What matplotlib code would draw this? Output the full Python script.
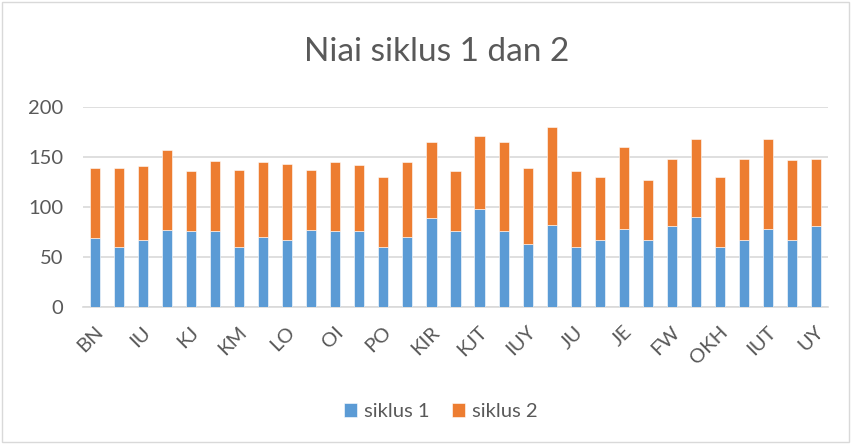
import numpy as np
import matplotlib
matplotlib.use('Agg')
import matplotlib.pyplot as plt
import matplotlib.transforms as mtrans
from matplotlib.patches import Rectangle

plt.rcParams['font.family'] = ['Lato', 'DejaVu Sans']

# visible category labels (every other bar carries a label)
tick_labels = ['BN', 'IU', 'KJ', 'KM', 'LO', 'OI', 'PO', 'KIR',
               'KJT', 'IUY', 'JU', 'JE', 'FW', 'OKH', 'IUT', 'UY']

siklus1 = [69, 60, 67, 77, 76, 76, 60, 70, 67, 77, 76, 76, 60, 70, 89, 76,
           98, 76, 63, 82, 60, 67, 78, 67, 81, 90, 60, 67, 78, 67, 81]
total   = [139, 139, 141, 157, 136, 146, 137, 145, 143, 137, 145, 142, 130, 145, 165, 136,
           171, 165, 139, 180, 136, 130, 160, 127, 148, 168, 130, 148, 168, 147, 148]
siklus2 = [t - a for t, a in zip(total, siklus1)]

BLUE   = '#5B9BD5'
ORANGE = '#ED7D31'
GREY   = '#595959'
GRID   = '#D9D9D9'

fig = plt.figure(figsize=(8.53, 4.44), dpi=100)
ax = fig.add_axes([0.0973, 0.3086, 0.8734, 0.4504])

x = np.arange(len(siklus1))
ax.bar(x, siklus1, width=0.42, color=BLUE, edgecolor='white', lw=0.4,
       label='siklus 1', zorder=3)
ax.bar(x, siklus2, width=0.42, bottom=siklus1, color=ORANGE, edgecolor='white',
       lw=0.4, label='siklus 2', zorder=3)

ax.set_xlim(-0.5, len(x) - 0.5)
ax.set_ylim(0, 200)
ax.set_yticks([0, 50, 100, 150, 200])
ax.grid(axis='y', color=GRID, lw=1.2, zorder=0)
for s in ['left', 'right', 'top']:
    ax.spines[s].set_visible(False)
ax.spines['bottom'].set_color(GRID)
ax.spines['bottom'].set_linewidth(1.2)

ax.set_xticks(x[::2])
ax.set_xticklabels(tick_labels, rotation=45, ha='right', va='center',
                   rotation_mode='anchor')
ax.tick_params(axis='both', length=0, labelsize=14.5, labelcolor=GREY)
ax.tick_params(axis='x', pad=16)
ax.tick_params(axis='y', pad=14)
# nudge rotated labels a bit to the right, like the original
shift = mtrans.ScaledTranslation(5 / 100, 0, fig.dpi_scale_trans)
for lbl in ax.get_xticklabels():
    lbl.set_transform(lbl.get_transform() + shift)

fig.text(0.512, 0.882, 'Niai siklus 1 dan 2', ha='center', va='center',
         fontsize=24, color=GREY)

fig.legend(loc='center', bbox_to_anchor=(0.517, 0.073), ncol=2, frameon=False,
           fontsize=14.5, handlelength=0.65, handleheight=0.65, columnspacing=1.1,
           handletextpad=0.35, labelcolor=GREY)

fig.patches.append(Rectangle((0.002, 0.005), 0.993, 0.99, transform=fig.transFigure,
                             fill=False, edgecolor=GRID, lw=1))

fig.savefig('out.png', dpi=100)
